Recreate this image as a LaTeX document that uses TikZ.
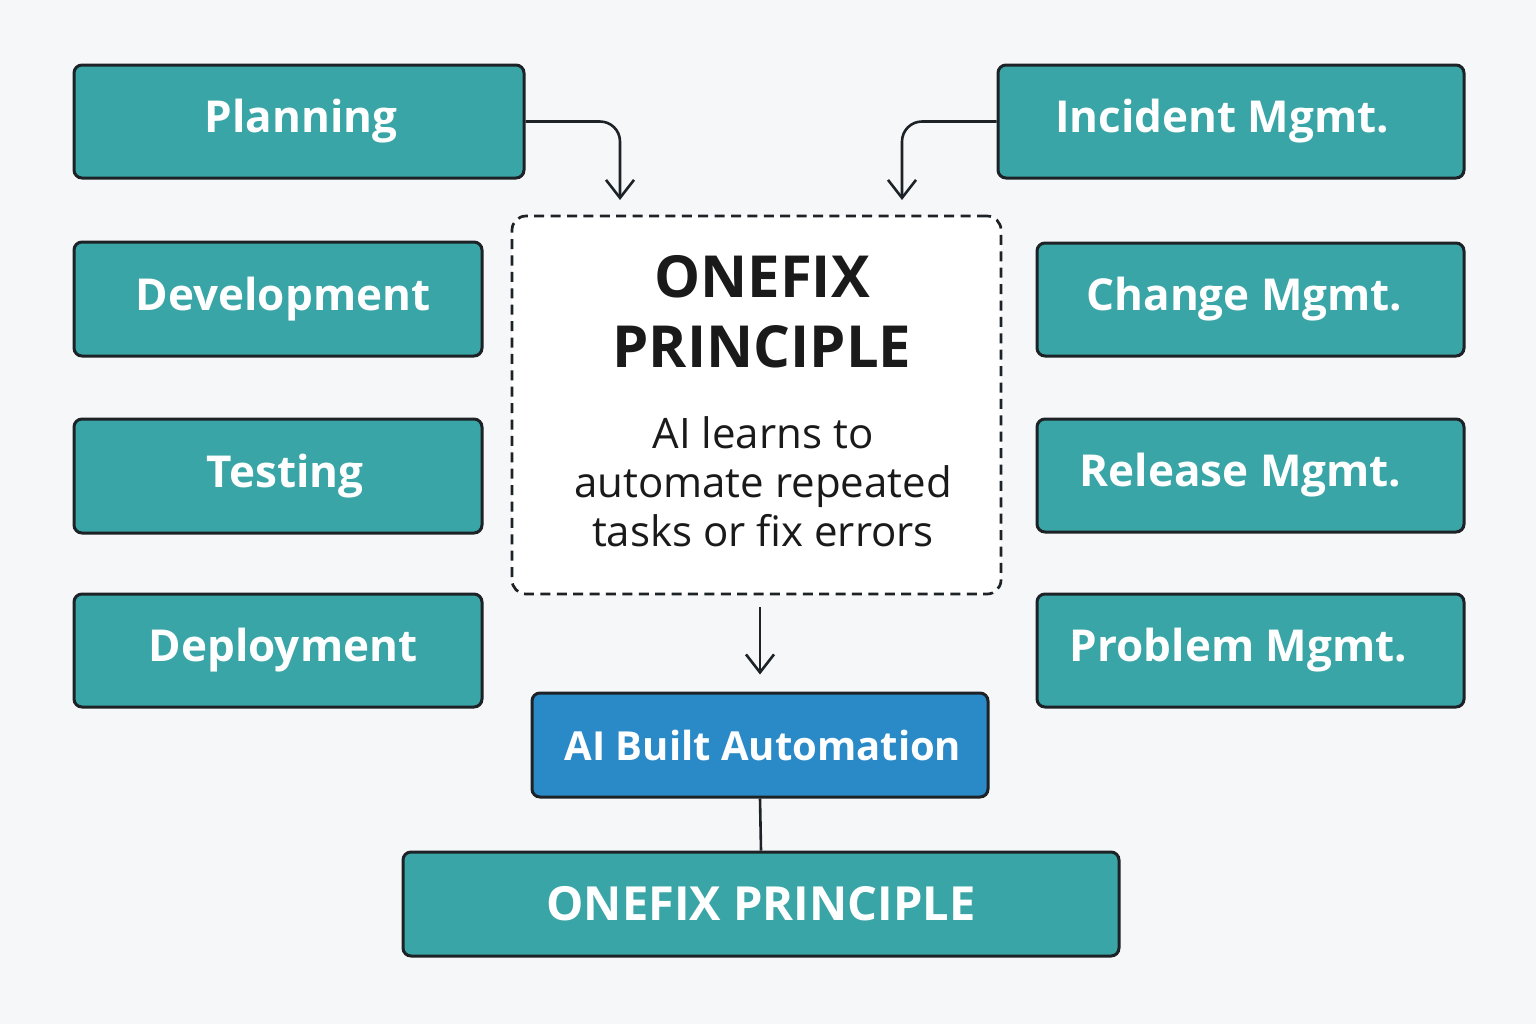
\documentclass[tikz,border=0pt]{standalone}
\usepackage{fontspec}
\setmainfont{Open Sans}
\usetikzlibrary{arrows.meta}
\definecolor{bgc}{HTML}{F6F7F9}
\definecolor{tealc}{HTML}{3AA5A6}
\definecolor{bluec}{HTML}{2A8AC8}
\definecolor{edgec}{HTML}{1C2226}
\definecolor{inkc}{HTML}{1A1A1A}
\newcommand{\rsh}[2]{\hspace*{#1}#2}
\newcommand{\lsh}[2]{#2\hspace*{#1}}
\tikzset{
  box/.style={draw=edgec, line width=1.5pt, fill=tealc, rounded corners=4pt,
    inner sep=0pt, text=white, font=\fontsize{22}{26}\selectfont\bfseries},
  bluebox/.style={box, fill=bluec},
  dashbox/.style={draw=edgec, line width=1.35pt, fill=white, rounded corners=7pt,
    dash pattern=on 5pt off 3.2pt, inner sep=0pt},
  arr/.style={draw=edgec, line width=1.3pt, -{Straight Barb[length=9pt,width=14pt,line width=1.3pt]}},
  conn/.style={draw=edgec, line width=1.3pt},
}
\begin{document}
\begin{tikzpicture}[x=0.5pt,y=-0.5pt]
\fill[bgc] (0,0) rectangle (1536,1024);
\useasboundingbox (0,0) rectangle (1536,1024);

\node[box, minimum width=225pt, minimum height=56.5pt] (plan) at (299,121.5) {\rsh{2pt}{Planning}};
\node[box, minimum width=204pt, minimum height=57pt] (dev) at (278,299) {\rsh{5pt}{Development}};
\node[box, minimum width=204pt, minimum height=57pt] (test) at (278,476) {\rsh{7pt}{Testing}};
\node[box, minimum width=204pt, minimum height=56.5pt] (dep) at (278,650.5) {\rsh{5pt}{Deployment}};

\node[box, minimum width=233pt, minimum height=56.5pt] (inc) at (1231,121.5) {\lsh{9pt}{Incident Mgmt.}};
\node[box, minimum width=213.5pt, minimum height=56.5pt] (chg) at (1250.5,299.5) {\lsh{6pt}{Change Mgmt.}};
\node[box, minimum width=213.5pt, minimum height=56.5pt] (rel) at (1250.5,475.5) {\lsh{10pt}{Release Mgmt.}};
\node[box, minimum width=213.5pt, minimum height=56.5pt] (prob) at (1250.5,650.5) {\lsh{12pt}{Problem Mgmt.}};

\node[dashbox, minimum width=244.5pt, minimum height=189pt] (cbox) at (756.5,405) {};
\node[text=inkc, align=center, font=\fontsize{29}{35}\selectfont\bfseries] (title) at (762,312) {ONEFIX\\PRINCIPLE};
\node[text=inkc, align=center, font=\fontsize{21}{24.5}\selectfont] (body) at (763,482) {AI learns to\\automate repeated\\tasks or fix errors};

\node[bluebox, minimum width=228pt, minimum height=52pt, font=\fontsize{20}{24}\selectfont\bfseries] (ai) at (760,745) {\rsh{3pt}{AI Built Automation}};
\node[box, minimum width=358pt, minimum height=52pt, font=\fontsize{23.5}{28}\selectfont\bfseries] (bot) at (761,904) {ONEFIX PRINCIPLE};

\coordinate (p1) at (620,200);
\coordinate (p2) at (902,200);
\draw[arr, rounded corners=10pt] (plan.east) -| (p1);
\draw[arr, rounded corners=10pt] (inc.west) -| (p2);
\draw[arr, shorten <=6pt, shorten >=8.5pt] (ai.north |- cbox.south) -- (ai.north);
\draw[conn] (ai.south) -- (bot.north);
\end{tikzpicture}
\end{document}
